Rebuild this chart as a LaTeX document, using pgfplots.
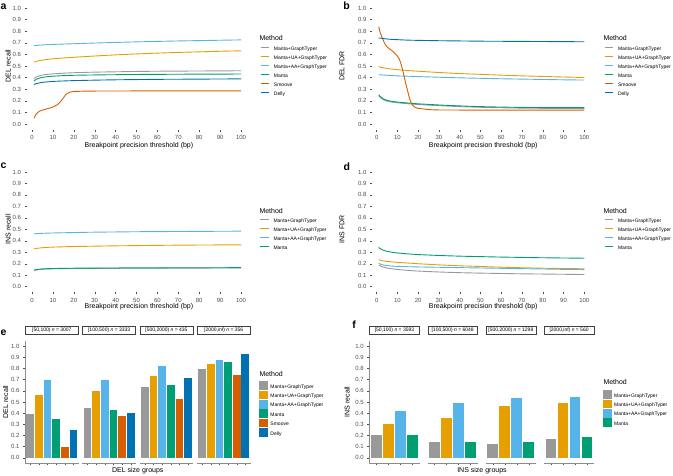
\documentclass[border=0pt]{standalone}
\usepackage{pgfplots}
\pgfplotsset{compat=1.18}
\usepackage{fontspec}
\setmainfont{Liberation Sans}
\definecolor{cgray}{HTML}{999999}
\definecolor{corange}{HTML}{E69F00}
\definecolor{csky}{HTML}{56B4E9}
\definecolor{cgreen}{HTML}{009E73}
\definecolor{cverm}{HTML}{D55E00}
\definecolor{cblue}{HTML}{0072B2}
\definecolor{ctick}{HTML}{4D4D4D}

\newcommand{\tickfont}{\fontsize{6}{7}\selectfont}
\newcommand{\labfont}{\fontsize{7}{8}\selectfont}
\newcommand{\legfont}{\fontsize{5}{6}\selectfont}

\pgfplotsset{
  ylab/.style={every axis y label/.style={at={(axis description cs:#1,0.5)}, rotate=90, anchor=center, font=\labfont}},
  xlab/.style={every axis x label/.style={at={(axis description cs:0.5,#1)}, anchor=center, font=\labfont}},
  base/.style={
    /pgf/number format/assume math mode=true,
    tick label style={font=\tickfont, text=ctick},
    tick align=outside, major tick length=2pt,
    tick style={ctick, line width=0.4pt},
    ytick={0,0.1,0.2,0.3,0.4,0.5,0.6,0.7,0.8,0.9,1},
    yticklabel style={/pgf/number format/.cd, fixed, fixed zerofill, precision=1},
    ymin=-0.05, ymax=1.05,
    legend cell align=left,
  },
  lineaxis/.style={
    base, x=2.09pt, xmin=-2.6, xmax=104.95,
    axis line style={draw=none}, tick pos=left,
    xtick={0,10,...,100},
    xlabel={Breakpoint precision threshold (bp)},
    legend image code/.code={\draw[##1] (0pt,1.3pt) -- (8.7pt,1.3pt);},
    legend style={draw=none, fill=none, font=\legfont, anchor=north west, inner sep=0pt,
      row sep=2.2pt, nodes={inner sep=1pt, text height=3.7pt, text depth=1.1pt},
      /tikz/every odd column/.append style={column sep=3.3pt}},
    every axis plot/.append style={line width=0.9pt, no markers, smooth, tension=0.4},
  },
  rightline/.style={lineaxis, x=2.076pt, xmin=-2.3},
  baraxis/.style={
    base, y=111.5pt,
    axis x line*=bottom, axis line style={black!45, line width=0.5pt},
    xticklabels={},
    title style={at={(0.5,1)}, anchor=south, draw=black!75, fill=white, line width=0.5pt,
      minimum height=8.6pt, inner sep=0pt, font=\legfont, yshift=0pt},
    legend style={draw=none, fill=none, font=\legfont, anchor=north west, inner sep=0pt,
      row sep=0.4pt, nodes={inner sep=1pt, text height=3.7pt, text depth=1.1pt},
      /tikz/every odd column/.append style={column sep=1pt}},
  },
  mybar/.style={ybar, draw=none, fill=#1,
    legend image code/.code={\fill[#1] (0pt,-3pt) rectangle (9pt,5.6pt);}},
}

\begin{document}
\begin{tikzpicture}
\useasboundingbox (0,0) rectangle (673pt,475pt);

% ---------- a: DEL recall
\begin{axis}[lineaxis, at={(26.57pt,345.2pt)}, anchor=south west, y=116pt,
  ylabel={DEL recall}, ylab=-0.0826, xlab=-0.127,
  legend style={at={(1.038,0.660)}}]
\addplot[cgray] coordinates {(1,0.392)(2,0.405)(4,0.418)(6,0.425)(10,0.432)(15,0.438)(20,0.442)(30,0.447)(40,0.450)(50,0.453)(60,0.455)(70,0.456)(80,0.457)(90,0.458)(100,0.459)};
\addlegendentry{Manta+GraphTyper}
\addplot[corange] coordinates {(1,0.532)(2,0.540)(4,0.548)(7,0.556)(10,0.562)(15,0.569)(20,0.575)(30,0.586)(40,0.596)(50,0.604)(60,0.611)(70,0.617)(80,0.622)(90,0.627)(100,0.631)};
\addlegendentry{Manta+UA+GraphTyper}
\addplot[csky] coordinates {(1,0.675)(3,0.679)(6,0.683)(10,0.686)(20,0.692)(30,0.698)(40,0.703)(50,0.708)(60,0.712)(70,0.716)(80,0.719)(90,0.722)(100,0.725)};
\addlegendentry{Manta+AA+GraphTyper}
\addplot[cgreen] coordinates {(1,0.370)(2,0.385)(4,0.398)(6,0.405)(10,0.412)(15,0.417)(20,0.420)(30,0.423)(40,0.425)(50,0.427)(60,0.428)(70,0.429)(80,0.430)(90,0.430)(100,0.431)};
\addlegendentry{Manta}
\addplot[cverm] coordinates {(1,0.05)(2,0.085)(3,0.103)(4,0.113)(5,0.12)(7,0.13)(9,0.14)(11,0.155)(12,0.165)(13,0.18)(14,0.2)(15,0.225)(16,0.25)(17,0.265)(18,0.274)(20,0.28)(25,0.283)(30,0.284)(50,0.285)(100,0.286)};
\addlegendentry{Smoove}
\addplot[cblue] coordinates {(1,0.340)(2,0.348)(4,0.356)(6,0.361)(10,0.367)(15,0.371)(20,0.374)(30,0.378)(40,0.381)(50,0.383)(60,0.385)(70,0.386)(80,0.387)(90,0.388)(100,0.389)};
\addlegendentry{Delly}
\end{axis}

% ---------- b: DEL FDR
\begin{axis}[rightline, at={(371.9pt,345.2pt)}, anchor=south west, y=116pt,
  ylabel={DEL FDR}, ylab=-0.134, xlab=-0.127,
  legend style={at={(1.042,0.660)}}]
\addplot[cgray] coordinates {(1,0.245)(2,0.225)(3,0.212)(5,0.197)(7,0.19)(10,0.183)(15,0.175)(20,0.168)(30,0.158)(40,0.150)(50,0.144)(60,0.140)(70,0.137)(80,0.135)(90,0.134)(100,0.133)};
\addlegendentry{Manta+GraphTyper}
\addplot[corange] coordinates {(1,0.495)(3,0.485)(6,0.476)(10,0.468)(15,0.461)(20,0.455)(30,0.444)(40,0.435)(50,0.428)(60,0.421)(70,0.415)(80,0.41)(90,0.405)(100,0.401)};
\addlegendentry{Manta+UA+GraphTyper}
\addplot[csky] coordinates {(1,0.425)(5,0.42)(10,0.415)(20,0.409)(30,0.403)(40,0.398)(50,0.394)(60,0.39)(70,0.387)(80,0.384)(90,0.381)(100,0.379)};
\addlegendentry{Manta+AA+GraphTyper}
\addplot[cgreen] coordinates {(1,0.252)(2,0.232)(3,0.218)(5,0.204)(7,0.196)(10,0.189)(15,0.181)(20,0.174)(30,0.164)(40,0.156)(50,0.150)(60,0.146)(70,0.143)(80,0.142)(90,0.141)(100,0.141)};
\addlegendentry{Manta}
\addplot[cverm] coordinates {(1,0.84)(1.5,0.80)(2.5,0.75)(4,0.69)(5,0.665)(6,0.65)(7,0.637)(8,0.622)(9,0.605)(10,0.585)(11,0.555)(12,0.50)(13,0.43)(14,0.35)(15,0.28)(16,0.21)(17,0.17)(18,0.15)(19,0.14)(20,0.135)(25,0.125)(30,0.121)(50,0.12)(100,0.12)};
\addlegendentry{Smoove}
\addplot[cblue] coordinates {(1,0.742)(3,0.737)(6,0.731)(10,0.727)(15,0.723)(20,0.721)(30,0.718)(40,0.716)(50,0.714)(60,0.713)(70,0.712)(80,0.711)(90,0.710)(100,0.709)};
\addlegendentry{Delly}
\end{axis}

% ---------- c: INS recall
\begin{axis}[lineaxis, at={(26.57pt,182.6pt)}, anchor=south west, y=114.7pt,
  ylabel={INS recall}, ylab=-0.0826, xlab=-0.116,
  legend style={at={(1.036,0.593)}}]
\addplot[cgray] coordinates {(1,0.142)(3,0.148)(6,0.153)(10,0.156)(20,0.158)(40,0.160)(60,0.161)(80,0.162)(100,0.163)};
\addlegendentry{Manta+GraphTyper}
\addplot[corange] coordinates {(1,0.330)(3,0.336)(6,0.341)(10,0.345)(20,0.35)(30,0.353)(40,0.356)(50,0.358)(60,0.36)(70,0.362)(80,0.363)(90,0.364)(100,0.365)};
\addlegendentry{Manta+UA+GraphTyper}
\addplot[csky] coordinates {(1,0.46)(3,0.463)(6,0.466)(10,0.468)(20,0.472)(30,0.475)(40,0.477)(50,0.479)(60,0.48)(70,0.481)(80,0.482)(90,0.483)(100,0.484)};
\addlegendentry{Manta+AA+GraphTyper}
\addplot[cgreen] coordinates {(1,0.145)(3,0.151)(6,0.156)(10,0.158)(20,0.161)(30,0.162)(40,0.163)(50,0.164)(60,0.164)(70,0.165)(80,0.165)(90,0.165)(100,0.166)};
\addlegendentry{Manta}
\end{axis}

% ---------- d: INS FDR
\begin{axis}[rightline, at={(371.9pt,182.6pt)}, anchor=south west, y=114.7pt,
  ylabel={INS FDR}, ylab=-0.134, xlab=-0.116,
  legend style={at={(1.042,0.593)}}]
\addplot[cgray] coordinates {(1,0.19)(2,0.178)(4,0.167)(6,0.159)(10,0.15)(15,0.142)(20,0.136)(30,0.128)(40,0.122)(50,0.118)(60,0.115)(70,0.112)(80,0.11)(90,0.108)(100,0.106)};
\addlegendentry{Manta+GraphTyper}
\addplot[corange] coordinates {(1,0.235)(3,0.225)(6,0.218)(10,0.212)(15,0.206)(20,0.200)(30,0.19)(40,0.182)(50,0.176)(60,0.170)(70,0.165)(80,0.161)(90,0.158)(100,0.156)};
\addlegendentry{Manta+UA+GraphTyper}
\addplot[csky] coordinates {(1,0.205)(2,0.195)(4,0.186)(7,0.18)(10,0.177)(15,0.174)(20,0.172)(30,0.169)(40,0.166)(50,0.163)(60,0.160)(70,0.157)(80,0.154)(90,0.151)(100,0.149)};
\addlegendentry{Manta+AA+GraphTyper}
\addplot[cgreen] coordinates {(1,0.342)(2,0.328)(4,0.313)(6,0.304)(10,0.294)(15,0.286)(20,0.28)(30,0.272)(40,0.266)(50,0.262)(60,0.258)(70,0.255)(80,0.252)(90,0.25)(100,0.248)};
\addlegendentry{Manta}
\end{axis}

% ---------- e: DEL recall by size group (4 facets)
\begin{axis}[baraxis, at={(25pt,11.7pt)}, anchor=south west,
  xmin=0.4, xmax=6.6, x=8.66pt, xtick={1,...,6}, axis y line*=left,
  title={{[50,100)} \textit{n} = 3007}, title style={minimum width=53.2pt},
  ylabel={DEL recall}, ylab=-0.36]
\addplot[mybar=cgray, bar width=7.8pt] coordinates {(1,0.39)};
\addplot[mybar=corange, bar width=7.8pt] coordinates {(2,0.567)};
\addplot[mybar=csky, bar width=7.8pt] coordinates {(3,0.695)};
\addplot[mybar=cgreen, bar width=7.8pt] coordinates {(4,0.345)};
\addplot[mybar=cverm, bar width=7.8pt] coordinates {(5,0.10)};
\addplot[mybar=cblue, bar width=7.8pt] coordinates {(6,0.25)};
\end{axis}
\begin{axis}[baraxis, at={(82.3pt,11.7pt)}, anchor=south west,
  xmin=0.4, xmax=6.6, x=8.66pt, xtick={1,...,6}, axis y line=none,
  title={{[100,500)} \textit{n} = 3333}, title style={minimum width=53.2pt}]
\addplot[mybar=cgray, bar width=7.8pt] coordinates {(1,0.45)};
\addplot[mybar=corange, bar width=7.8pt] coordinates {(2,0.597)};
\addplot[mybar=csky, bar width=7.8pt] coordinates {(3,0.696)};
\addplot[mybar=cgreen, bar width=7.8pt] coordinates {(4,0.428)};
\addplot[mybar=cverm, bar width=7.8pt] coordinates {(5,0.37)};
\addplot[mybar=cblue, bar width=7.8pt] coordinates {(6,0.398)};
\end{axis}
\begin{axis}[baraxis, at={(139.6pt,11.7pt)}, anchor=south west,
  xmin=0.4, xmax=6.6, x=8.66pt, xtick={1,...,6}, axis y line=none,
  title={{[500,2000)} \textit{n} = 435}, title style={minimum width=53.2pt}]
\addplot[mybar=cgray, bar width=7.8pt] coordinates {(1,0.632)};
\addplot[mybar=corange, bar width=7.8pt] coordinates {(2,0.735)};
\addplot[mybar=csky, bar width=7.8pt] coordinates {(3,0.826)};
\addplot[mybar=cgreen, bar width=7.8pt] coordinates {(4,0.648)};
\addplot[mybar=cverm, bar width=7.8pt] coordinates {(5,0.523)};
\addplot[mybar=cblue, bar width=7.8pt] coordinates {(6,0.715)};
\end{axis}
\begin{axis}[baraxis, at={(196.9pt,11.7pt)}, anchor=south west,
  xmin=0.4, xmax=6.6, x=8.66pt, xtick={1,...,6}, axis y line=none,
  title={{[2000,inf)} \textit{n} = 356}, title style={minimum width=53.2pt},
  legend style={at={(1.162,0.671)}}]
\addplot[mybar=cgray, bar width=7.8pt] coordinates {(1,0.80)};
\addlegendentry{Manta+GraphTyper}
\addplot[mybar=corange, bar width=7.8pt] coordinates {(2,0.84)};
\addlegendentry{Manta+UA+GraphTyper}
\addplot[mybar=csky, bar width=7.8pt] coordinates {(3,0.876)};
\addlegendentry{Manta+AA+GraphTyper}
\addplot[mybar=cgreen, bar width=7.8pt] coordinates {(4,0.857)};
\addlegendentry{Manta}
\addplot[mybar=cverm, bar width=7.8pt] coordinates {(5,0.742)};
\addlegendentry{Smoove}
\addplot[mybar=cblue, bar width=7.8pt] coordinates {(6,0.928)};
\addlegendentry{Delly}
\end{axis}

% ---------- f: INS recall by size group (4 facets)
\begin{axis}[baraxis, at={(369.3pt,11.7pt)}, anchor=south west,
  xmin=0.4, xmax=4.6, x=11.98pt, xtick={1,...,4}, axis y line*=left,
  title={{[50,100)} \textit{n} = 3593}, title style={minimum width=49.8pt},
  ylabel={INS recall}, ylab=-0.443]
\addplot[mybar=cgray, bar width=10.8pt] coordinates {(1,0.20)};
\addplot[mybar=corange, bar width=10.8pt] coordinates {(2,0.30)};
\addplot[mybar=csky, bar width=10.8pt] coordinates {(3,0.418)};
\addplot[mybar=cgreen, bar width=10.8pt] coordinates {(4,0.205)};
\end{axis}
\begin{axis}[baraxis, at={(427.5pt,11.7pt)}, anchor=south west,
  xmin=0.4, xmax=4.6, x=11.98pt, xtick={1,...,4}, axis y line=none,
  title={{[100,500)} \textit{n} = 6048}, title style={minimum width=49.8pt}]
\addplot[mybar=cgray, bar width=10.8pt] coordinates {(1,0.14)};
\addplot[mybar=corange, bar width=10.8pt] coordinates {(2,0.352)};
\addplot[mybar=csky, bar width=10.8pt] coordinates {(3,0.494)};
\addplot[mybar=cgreen, bar width=10.8pt] coordinates {(4,0.145)};
\end{axis}
\begin{axis}[baraxis, at={(485.7pt,11.7pt)}, anchor=south west,
  xmin=0.4, xmax=4.6, x=11.98pt, xtick={1,...,4}, axis y line=none,
  title={{[500,2000)} \textit{n} = 1298}, title style={minimum width=49.8pt}]
\addplot[mybar=cgray, bar width=10.8pt] coordinates {(1,0.127)};
\addplot[mybar=corange, bar width=10.8pt] coordinates {(2,0.467)};
\addplot[mybar=csky, bar width=10.8pt] coordinates {(3,0.533)};
\addplot[mybar=cgreen, bar width=10.8pt] coordinates {(4,0.137)};
\end{axis}
\begin{axis}[baraxis, at={(543.9pt,11.7pt)}, anchor=south west,
  xmin=0.4, xmax=4.6, x=11.98pt, xtick={1,...,4}, axis y line=none,
  title={{[2000,inf)} \textit{n} = 560}, title style={minimum width=49.8pt},
  legend style={at={(1.175,0.598)}}]
\addplot[mybar=cgray, bar width=10.8pt] coordinates {(1,0.167)};
\addlegendentry{Manta+GraphTyper}
\addplot[mybar=corange, bar width=10.8pt] coordinates {(2,0.49)};
\addlegendentry{Manta+UA+GraphTyper}
\addplot[mybar=csky, bar width=10.8pt] coordinates {(3,0.547)};
\addlegendentry{Manta+AA+GraphTyper}
\addplot[mybar=cgreen, bar width=10.8pt] coordinates {(4,0.183)};
\addlegendentry{Manta}
\end{axis}

% ---------- legend titles, panel letters, shared x labels
\begin{scope}[every node/.style={inner sep=0pt}]
\foreach \x/\y in {259.3/437, 603.3/437, 259.3/264, 603.3/264, 259.3/101, 603.3/93.3}
  \node[anchor=west, font=\labfont] at (\x pt,\y pt) {Method};
\node[anchor=west, font=\bfseries\fontsize{10.5}{12}\selectfont] at (0.5pt,468.5pt) {a};
\node[anchor=center, font=\bfseries\fontsize{10.5}{12}\selectfont] at (346.5pt,469pt) {b};
\node[anchor=west, font=\bfseries\fontsize{10.5}{12}\selectfont] at (0.5pt,309pt) {c};
\node[anchor=center, font=\bfseries\fontsize{10.5}{12}\selectfont] at (346.8pt,308.5pt) {d};
\node[anchor=west, font=\bfseries\fontsize{10.5}{12}\selectfont] at (0.5pt,142.5pt) {e};
\node[anchor=center, font=\bfseries\fontsize{10.5}{12}\selectfont] at (354.2pt,150pt) {f};
\node[font=\labfont] at (137.8pt,4pt) {DEL size groups};
\node[font=\labfont] at (482pt,4pt) {INS size groups};
\end{scope}
\end{tikzpicture}
\end{document}
